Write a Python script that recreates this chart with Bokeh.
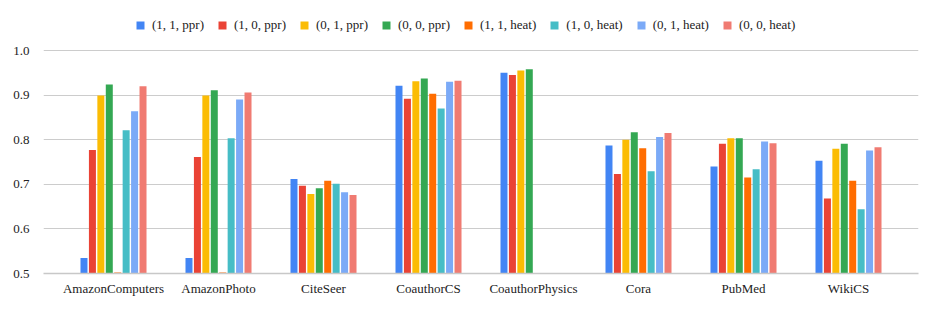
import math
from bokeh.plotting import figure
from bokeh.models import (ColumnDataSource, FactorRange, Range1d, FixedTicker, Legend,
                          LegendItem, PrintfTickFormatter)
from bokeh.transform import dodge
from bokeh.embed import file_html
from bokeh.resources import INLINE

NaN = float("nan")

datasets = ["AmazonComputers", "AmazonPhoto", "CiteSeer", "CoauthorCS",
            "CoauthorPhysics", "Cora", "PubMed", "WikiCS"]

series_names = ["(1, 1, ppr)", "(1, 0, ppr)", "(0, 1, ppr)", "(0, 0, ppr)",
                "(1, 1, heat)", "(1, 0, heat)", "(0, 1, heat)", "(0, 0, heat)"]

s_11_ppr = [0.535, 0.535, 0.712, 0.921, 0.950, 0.787, 0.740, 0.753]
s_10_ppr = [0.777, 0.761, 0.697, 0.892, 0.945, 0.723, 0.791, 0.668]
s_01_ppr = [0.899, 0.899, 0.678, 0.931, 0.955, 0.800, 0.803, 0.780]
s_00_ppr = [0.924, 0.911, 0.691, 0.937, 0.958, 0.817, 0.803, 0.791]
s_11_heat = [0.502, 0.502, 0.708, 0.903, NaN, 0.781, 0.715, 0.708]
s_10_heat = [0.821, 0.803, 0.701, 0.870, NaN, 0.729, 0.734, 0.644]
s_01_heat = [0.864, 0.890, 0.682, 0.930, NaN, 0.806, 0.796, 0.776]
s_00_heat = [0.920, 0.906, 0.676, 0.932, NaN, 0.815, 0.792, 0.783]

series_values = [s_11_ppr, s_10_ppr, s_01_ppr, s_00_ppr,
                 s_11_heat, s_10_heat, s_01_heat, s_00_heat]

colors = ["#4285F4", "#EA4335", "#FBBC04", "#34A853",
          "#FF6D01", "#46BDC6", "#7BAAF7", "#F07B72"]

y_ticks = [0.5, 0.6, 0.7, 0.8, 0.9, 1.0]

FONT = "'Liberation Serif', 'Times New Roman', serif"

src = {"x": datasets}
for i, vals in enumerate(series_values):
    src[f"s{i}"] = vals
source = ColumnDataSource(src)

x_range = FactorRange(*datasets, range_padding=0.1667, range_padding_units="absolute")

p = figure(x_range=x_range, y_range=Range1d(0.5, 1.0942), width=926, height=303,
           output_backend="svg", toolbar_location=None,
           min_border_left=43, min_border_right=8, min_border_bottom=30, min_border_top=8)

pitch = 0.0803
bw = 0.0667
items = []
for i, name in enumerate(series_names):
    r = p.vbar(x=dodge("x", (i - 3.5) * pitch, range=p.x_range), top=f"s{i}", bottom=0.5,
               width=bw, source=source, fill_color=colors[i], line_color=None)
    items.append(LegendItem(label=name, renderers=[r]))

legend = Legend(items=items, orientation="horizontal", location=(92, 240),
                glyph_width=10, glyph_height=10, label_standoff=7, spacing=13,
                label_text_font=FONT, label_text_font_size="13px", label_text_color="#222222",
                border_line_color=None, background_fill_alpha=0, padding=0, margin=0)
p.add_layout(legend)

p.outline_line_color = None
p.xgrid.grid_line_color = None
p.ygrid.grid_line_color = "#cccccc"
p.ygrid.ticker = FixedTicker(ticks=y_ticks)

p.yaxis.ticker = FixedTicker(ticks=y_ticks)
p.yaxis.formatter = PrintfTickFormatter(format="%.1f")
p.yaxis.axis_line_color = None
p.yaxis.major_tick_line_color = None
p.yaxis.minor_tick_line_color = None
p.yaxis.major_label_standoff = 8
p.yaxis.major_label_text_font = FONT
p.yaxis.major_label_text_font_size = "13px"
p.yaxis.major_label_text_color = "#222222"

p.xaxis.axis_line_color = "#c8c8c8"
p.xaxis.axis_line_width = 1.5
p.xaxis.major_tick_line_color = None
p.xaxis.minor_tick_line_color = None
p.xaxis.major_label_standoff = 1
p.xaxis.major_label_text_font = FONT
p.xaxis.major_label_text_font_size = "13px"
p.xaxis.major_label_text_color = "#222222"

open("out.html", "w").write(file_html(p, INLINE))
